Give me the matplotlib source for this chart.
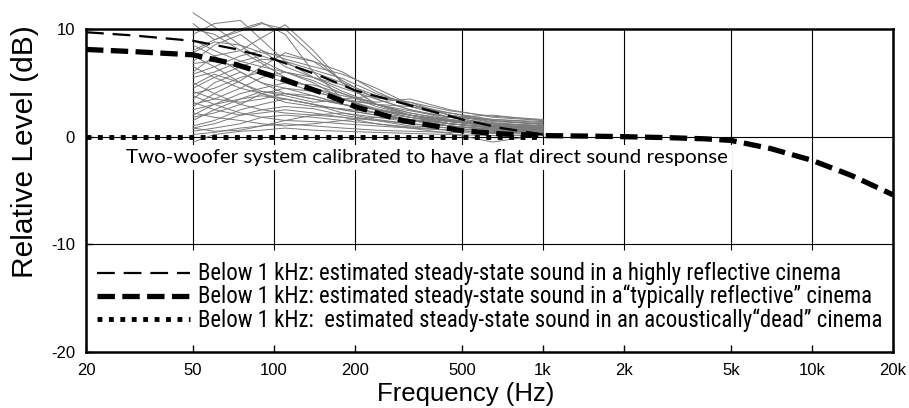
import matplotlib
matplotlib.use("Agg")
import matplotlib.pyplot as plt
from matplotlib import font_manager
from matplotlib.lines import Line2D
from matplotlib.ticker import NullLocator

# ---- data ----
tick_freqs = [20, 50, 100, 200, 500, 1000, 2000, 5000, 10000, 20000]
tick_labels = ["20", "50", "100", "200", "500", "1k", "2k", "5k", "10k", "20k"]
ytick_vals = [10, 0, -10, -20]
ytick_labels = ["10", "0", "-10", "-20"]
grid_freqs = [50, 100, 200, 500, 1000, 2000, 5000, 10000]

# estimated steady-state curves below 1 kHz
low_freq = [20, 30, 50, 70, 100, 150, 200, 300, 500, 700, 1000]
highly_reflective = [9.7, 9.4, 8.9, 8.2, 7.2, 5.6, 4.3, 3.1, 1.6, 0.8, 0.2]
typical_low = [8.1, 7.9, 7.6, 6.8, 5.6, 4.1, 2.8, 1.5, 0.55, 0.25, 0.1]
dead_freq = [20, 1000]
dead_level = [0.0, 0.0]

# direct sound above 1 kHz (continues the "typical" curve)
high_freq = [1500, 2000, 3000, 4000, 5000, 7000, 10000, 14000, 20000]
typical_high = [0.05, 0.0, -0.1, -0.2, -0.35, -1.1, -2.2, -3.6, -5.4]

# measured cinema responses, 50 Hz - 1 kHz
trace_freq = [50, 60, 75, 90, 110, 140, 180, 240, 320, 450, 650, 1000]
traces = [
    [11.5, 10.2, 8.5, 7.0, 6.0, 5.2, 4.0, 2.8, 2.0, 1.2, 0.8, 0.6],
    [10.5, 9.0, 9.8, 10.5, 10.0, 7.5, 5.0, 3.0, 2.2, 1.5, 1.0, 0.8],
    [9.5, 10.5, 10.8, 9.0, 7.0, 5.5, 4.5, 3.5, 2.5, 1.8, 1.2, 1.0],
    [8.0, 9.0, 10.0, 10.6, 9.5, 6.0, 3.5, 2.5, 1.8, 1.2, 0.9, 0.7],
    [7.0, 8.5, 9.5, 8.0, 6.5, 5.5, 4.8, 3.6, 3.2, 2.0, 1.4, 1.2],
    [6.0, 7.5, 8.0, 9.2, 10.4, 8.0, 5.0, 3.0, 2.0, 1.5, 1.1, 0.9],
    [5.5, 6.0, 7.0, 7.5, 6.8, 6.0, 5.0, 3.8, 3.0, 2.2, 1.6, 1.4],
    [4.5, 5.5, 6.5, 7.2, 7.0, 6.2, 5.4, 4.0, 3.0, 2.0, 1.5, 1.1],
    [4.0, 4.5, 5.5, 6.0, 5.5, 4.5, 3.8, 3.2, 3.5, 2.5, 1.8, 1.5],
    [3.5, 5.0, 6.0, 5.0, 4.0, 3.5, 3.0, 2.5, 2.0, 1.5, 1.2, 1.0],
    [3.0, 3.5, 4.5, 5.5, 6.0, 5.0, 3.5, 2.5, 1.8, 1.4, 1.0, 0.8],
    [2.5, 3.0, 4.0, 4.5, 5.0, 4.8, 4.0, 3.0, 2.2, 1.6, 1.2, 1.0],
    [2.0, 3.0, 3.5, 4.2, 4.0, 3.5, 3.0, 2.5, 2.0, 1.4, 1.0, 0.7],
    [1.5, 2.5, 3.5, 3.8, 3.5, 3.0, 2.5, 2.0, 1.6, 1.2, 0.8, 0.6],
    [1.0, 1.5, 2.5, 3.0, 3.5, 3.0, 2.2, 1.6, 1.2, 1.0, 0.7, 0.5],
    [0.8, 1.2, 2.0, 2.5, 2.8, 2.6, 2.0, 1.5, 1.0, 0.8, 0.5, 0.4],
    [0.5, 0.8, 1.2, 1.8, 2.0, 1.8, 1.5, 1.2, 0.9, 0.6, 0.4, 0.3],
    [0.2, 0.4, 0.8, 1.0, 1.2, 1.0, 0.8, 0.6, 0.5, 0.4, 0.3, 0.2],
    [-0.5, 0.2, 0.5, 0.6, 0.8, 0.6, 0.5, 0.4, 0.3, 0.2, 0.1, 0.1],
    [6.5, 5.5, 4.5, 4.0, 3.5, 3.0, 2.5, 2.0, 1.5, 1.0, 0.6, 0.5],
    [8.5, 7.5, 6.0, 5.0, 4.5, 3.8, 3.0, 2.2, 1.6, 1.0, 0.7, 0.5],
    [9.0, 8.0, 7.0, 6.5, 6.0, 5.5, 4.2, 3.0, 2.0, 1.4, 1.0, 0.8],
    [7.5, 6.5, 5.0, 4.0, 3.2, 2.8, 2.6, 2.2, 1.8, 1.2, 0.8, 0.6],
    [5.0, 4.0, 3.0, 2.5, 2.2, 2.0, 1.8, 1.5, 1.2, 0.8, 0.5, 0.4],
    [3.8, 3.0, 2.2, 1.8, 1.5, 1.4, 1.2, 1.0, 0.8, 0.6, 0.4, 0.3],
    [6.8, 7.0, 6.5, 5.8, 5.0, 4.2, 3.5, 3.8, 3.2, 2.4, 1.9, 1.6],
    [5.8, 6.5, 7.5, 8.0, 7.2, 6.5, 5.8, 4.5, 3.0, 2.0, 1.3, 1.0],
    [2.8, 4.0, 5.2, 6.5, 7.8, 7.0, 5.2, 3.5, 2.5, 1.6, 1.0, 0.8],
    [1.8, 2.2, 3.0, 4.0, 4.5, 4.2, 3.5, 3.0, 2.8, 2.2, 1.5, 1.2],
    [4.8, 5.8, 5.0, 4.2, 3.8, 3.2, 3.4, 3.0, 2.4, 1.8, 1.6, 1.3],
    [3.2, 2.5, 2.0, 2.2, 2.5, 2.2, 1.8, 1.2, 0.8, 0.3, -0.5, 0.2],
    [10.0, 9.5, 8.0, 6.8, 5.5, 4.5, 3.5, 2.6, 2.0, 1.4, 1.0, 0.9],
    [7.8, 8.8, 8.5, 7.8, 7.5, 7.0, 6.0, 4.2, 2.8, 1.8, 1.2, 1.0],
    [2.2, 1.8, 1.5, 1.2, 1.0, 1.2, 1.5, 1.8, 1.6, 1.2, 0.9, 0.7],
    [0.8, 0.5, 0.6, 1.0, 1.5, 2.0, 2.2, 1.8, 1.4, 1.8, 2.0, 1.5],
    [4.2, 3.5, 3.2, 3.5, 4.0, 3.8, 3.0, 2.2, 1.5, 1.0, 0.6, 0.4],
]

legend_labels = [
    "Below 1 kHz: estimated steady-state sound in a highly reflective cinema",
    "Below 1 kHz: estimated steady-state sound in a\u201ctypically reflective\u201d cinema",
    "Below 1 kHz:  estimated steady-state sound in an acoustically\u201cdead\u201d cinema",
]
note = "Two-woofer system calibrated to have a flat direct sound response"


def pick_font(names):
    avail = {f.name for f in font_manager.fontManager.ttflist}
    for n in names:
        if n in avail:
            return n
    return "DejaVu Sans"


helv = pick_font(["Liberation Sans"])
narrow = pick_font(["Liberation Sans Narrow", "Roboto Condensed",
                    "Open Sans Condensed", "Lato"])
body = pick_font(["Lato", "Open Sans"])
plt.rcParams["font.family"] = helv

W, H = 909, 408
fig = plt.figure(figsize=(W / 100, H / 100), dpi=100)
ax = fig.add_axes([86 / W, 1 - 352 / H, 807 / W, 323 / H])
ax.set_xscale("log")
ax.set_xlim(20, 20000)
ax.set_ylim(-20, 10)

# grid
ax.vlines(grid_freqs, -10.5, 10, color="black", lw=0.8, zorder=1)
ax.axhline(0, color="black", lw=0.8, zorder=1)
ax.axhline(-10, color="black", lw=0.8, zorder=1)

for vals in traces:
    ax.plot(trace_freq, vals, color="#7a7a7a", lw=0.7, clip_on=False, zorder=2)

# line styles
st_high = dict(color="black", lw=1.6, dashes=(8, 4))
st_typ = dict(color="black", lw=3.8, dashes=(3.3, 1.4))
st_dead = dict(color="black", lw=3.5, dashes=(1.0, 1.35))

ax.plot(low_freq, highly_reflective, zorder=4, **st_high)
ax.plot(low_freq + high_freq, typical_low + typical_high, zorder=5, **st_typ)
ax.plot(dead_freq, dead_level, zorder=6, **st_dead)

renderer = fig.canvas.get_renderer()

# note text, scaled to the reference width
t = ax.text(371, -1.95, note, ha="center", va="center", fontfamily=body,
            fontsize=14, zorder=3,
            bbox=dict(fc="white", ec="none", pad=3))
t.set_fontsize(14 * 602 / t.get_window_extent(renderer).width)

# legend font size fitted to the longest row
probe = fig.text(0, 0, legend_labels[2], fontfamily=narrow, fontsize=14)
fs = 14 * 687 / probe.get_window_extent(renderer).width
probe.remove()
fs_px = fs * 100 / 72
handles = [Line2D([], [], **st) for st in (st_high, st_typ, st_dead)]
leg = ax.legend(handles, legend_labels, loc="center left",
                bbox_to_anchor=(11 / 807, (352 - 297) / 323),
                frameon=False, borderpad=0, borderaxespad=0,
                handlelength=93 / fs_px, handletextpad=8 / fs_px,
                labelspacing=(25.5 - fs_px * 1.15) / fs_px,
                prop={"family": narrow, "size": fs})

# axes styling
ax.xaxis.set_minor_locator(NullLocator())
ax.set_xticks(tick_freqs, tick_labels)
ax.set_yticks(ytick_vals, ytick_labels)
ax.tick_params(direction="in", length=5, width=1, labelsize=12)
ax.tick_params(axis="x", pad=8)
ax.tick_params(axis="y", pad=8)
for s in ax.spines.values():
    s.set_linewidth(1.8)

fig.text(466 / W, 1 - 401 / H, "Frequency (Hz)", ha="center",
         va="baseline", fontsize=18.5)
fig.text(25 / W, 1 - 152 / H, "Relative Level (dB)", ha="center",
         va="center", rotation=90, fontsize=21.5)

fig.savefig("out.png", dpi=100)
